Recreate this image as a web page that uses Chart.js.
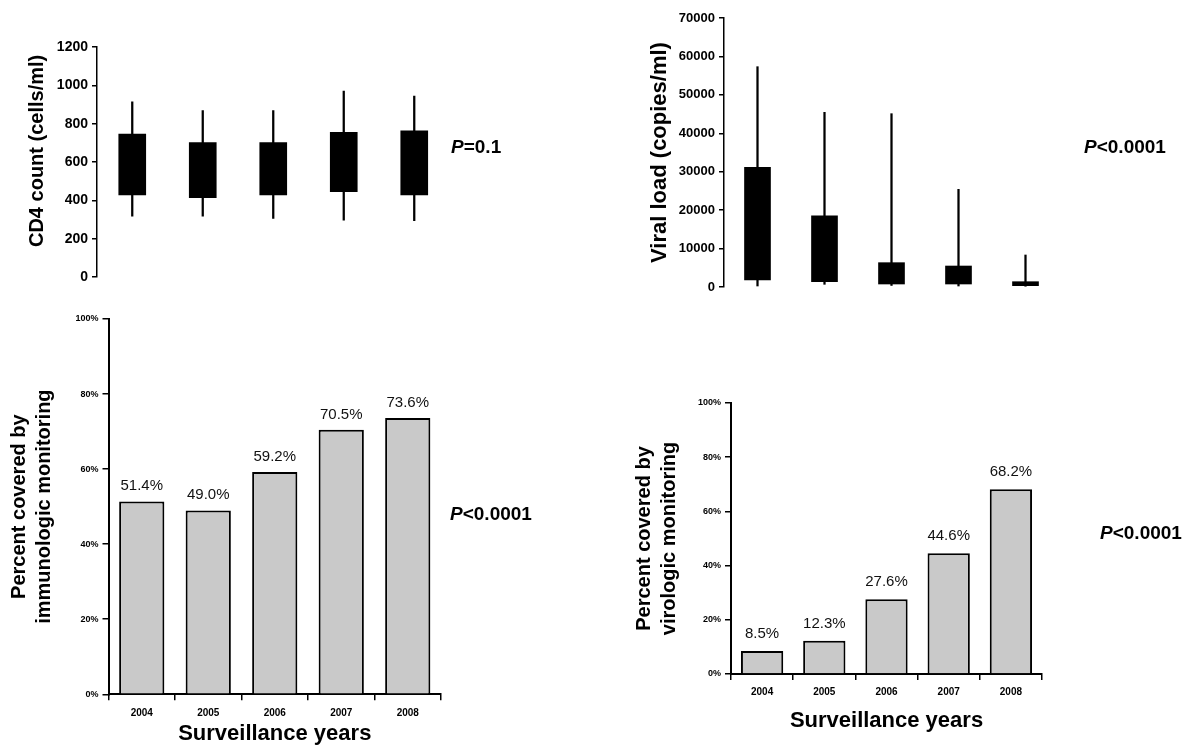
<!DOCTYPE html>
<html lang="en">
<head>
<meta charset="UTF-8">
<title>CD4 / viral load monitoring</title>
<script src="https://cdn.jsdelivr.net/npm/chart.js"></script>
<style>
  body { margin: 0; background: #fff; width: 1200px; height: 756px; position: relative; overflow: hidden;
         font-family: "Liberation Sans", Arial, sans-serif; }
  .panel { position: absolute; }
  .pval { position: absolute; font-weight: bold; color: #000; white-space: nowrap; }
</style>
</head>
<body>
<div class="panel" style="left:0;top:0;width:460px;height:300px"><canvas id="cd4"></canvas></div>
<div class="panel" style="left:600px;top:0;width:600px;height:300px"><canvas id="vl"></canvas></div>
<div class="panel" style="left:0;top:300px;width:600px;height:456px"><canvas id="immuno"></canvas></div>
<div class="panel" style="left:600px;top:380px;width:600px;height:376px"><canvas id="viro"></canvas></div>

<div class="pval" style="left:451px;top:137px;font-size:19px;line-height:20px"><i>P</i>=0.1</div>
<div class="pval" style="left:1084px;top:137px;font-size:19px;line-height:20px"><i>P</i>&lt;0.0001</div>
<div class="pval" style="left:450px;top:504px;font-size:19px;line-height:20px"><i>P</i>&lt;0.0001</div>
<div class="pval" style="left:1100px;top:523px;font-size:19px;line-height:20px"><i>P</i>&lt;0.0001</div>

<script>
    const years = ['2004', '2005', '2006', '2007', '2008'];

    // CD4 count (cells/ml): whisker ends and box edges
    const cd4Min = [318, 318, 306, 297, 294];
    const cd4Q1  = [428, 414, 428, 445, 428];
    const cd4Q3  = [746, 701, 701, 755, 763];
    const cd4Max = [914, 868, 868, 970, 944];

    // viral load (copies/ml)
    const vlMin = [260, 700, 400, 260, 200];
    const vlQ1  = [1820, 1380, 780, 780, 340];
    const vlQ3  = [31150, 18550, 6330, 5460, 1380];
    const vlMax = [57330, 45460, 45100, 25420, 8330];

    // percent covered
    const immunoPct = [51.4, 49.0, 59.2, 70.5, 73.6];
    const viroPct   = [8.5, 12.3, 27.6, 44.6, 68.2];

    const cd4Ticks = [0, 1200, 200];
    const vlTicks = [0, 70000, 10000];
    const pctTicks = [0, 100, 20];

    const FONT = '"Liberation Sans", Arial, sans-serif';
    Chart.defaults.font.family = FONT;
    Chart.defaults.color = '#000';

    function pairs(a, b) {
        return a.map((v, i) => [v, b[i]]);
    }

    // floating bars: box + thin whisker, drawn on the same category slot
    function boxChart(id, lo, q1, q3, hi, ticks, opts) {
        return new Chart(document.getElementById(id), {
            type: 'bar',
            data: {
                labels: years,
                datasets: [
                    { data: pairs(q1, q3), backgroundColor: '#000', barThickness: opts.boxW, grouped: false },
                    { data: pairs(lo, hi), backgroundColor: '#000', barThickness: 1.6, grouped: false }
                ]
            },
            options: {
                animation: false,
                responsive: true,
                maintainAspectRatio: false,
                layout: { padding: opts.pad },
                plugins: { legend: { display: false }, tooltip: { enabled: false } },
                scales: {
                    x: { display: false },
                    y: {
                        min: ticks[0], max: ticks[1],
                        ticks: { stepSize: ticks[2], padding: 4, font: { size: opts.tickSize, weight: 'bold' },
                                 callback: v => String(v) },
                        grid: { drawOnChartArea: false, tickLength: 5, color: '#000', lineWidth: 1.5 },
                        border: { display: true, color: '#000', width: 1.5 },
                        title: {
                            display: true, text: opts.title,
                            font: { size: opts.titleSize, weight: 'bold' },
                            padding: { top: opts.titlePad, bottom: 0 }
                        },
                        afterFit: s => { s.width = opts.yW; }
                    }
                }
            }
        });
    }

    const valueLabels = {
        id: 'valueLabels',
        afterDatasetsDraw(chart, args, o) {
            const ctx = chart.ctx;
            const meta = chart.getDatasetMeta(0);
            ctx.save();
            ctx.font = '15px ' + FONT;
            ctx.fillStyle = '#111';
            ctx.textAlign = 'center';
            ctx.textBaseline = 'alphabetic';
            meta.data.forEach((bar, i) => {
                const v = chart.data.datasets[0].data[i];
                ctx.fillText(v.toFixed(1) + '%', bar.x, bar.y - o.gap);
            });
            ctx.restore();
        }
    };

    function pctChart(id, values, opts) {
        return new Chart(document.getElementById(id), {
            type: 'bar',
            data: {
                labels: years,
                datasets: [{
                    data: values,
                    backgroundColor: '#c9c9c9',
                    borderColor: '#000',
                    borderWidth: 2,
                    borderSkipped: 'start',
                    barPercentage: 0.68,
                    categoryPercentage: 1
                }]
            },
            options: {
                animation: false,
                responsive: true,
                maintainAspectRatio: false,
                layout: { padding: opts.pad },
                plugins: {
                    legend: { display: false }, tooltip: { enabled: false },
                    valueLabels: { gap: opts.gap }
                },
                scales: {
                    x: {
                        ticks: { padding: opts.xTickPad, font: { size: 10, weight: 'bold' } },
                        grid: { offset: true, drawOnChartArea: false, tickLength: 6, color: '#000', lineWidth: 1.5 },
                        border: { display: true, color: '#000', width: 2 },
                        title: {
                            display: true, text: 'Surveillance years',
                            font: { size: 22, weight: 'bold' },
                            padding: { top: 0, bottom: opts.xTitlePad }
                        },
                        afterFit: s => { s.height = opts.xH; }
                    },
                    y: {
                        min: pctTicks[0], max: pctTicks[1],
                        ticks: { stepSize: pctTicks[2], padding: 4, font: { size: 9, weight: 'bold' },
                                 callback: v => v + '%' },
                        grid: { drawOnChartArea: false, tickLength: 6, color: '#000', lineWidth: 1.5 },
                        border: { display: true, color: '#000', width: 2 },
                        title: {
                            display: true, text: opts.title,
                            font: { size: 20, weight: 'bold', lineHeight: 1.25 },
                            padding: { top: opts.titlePad, bottom: 0 }
                        },
                        afterFit: s => { s.width = opts.yW; }
                    }
                }
            },
            plugins: [valueLabels]
        });
    }

    // leading spaces nudge the rotated title up a little, as in the original
    boxChart('cd4', cd4Min, cd4Q1, cd4Q3, cd4Max, cd4Ticks, {
        boxW: 27, pad: { left: 0, top: 47, right: 10.5, bottom: 23 }, yW: 97,
        tickSize: 14, title: '    CD4 count (cells/ml)', titleSize: 20, titlePad: 25.5
    });

    boxChart('vl', vlMin, vlQ1, vlQ3, vlMax, vlTicks, {
        boxW: 26, pad: { left: 0, top: 18, right: 141, bottom: 13 }, yW: 124,
        tickSize: 13, title: 'Viral load (copies/ml)', titleSize: 22, titlePad: 47
    });

    pctChart('immuno', immunoPct, {
        pad: { left: 0, top: 19, right: 159, bottom: 0 }, yW: 108.5, xH: 61.7,
        xTickPad: 7, xTitlePad: 9, gap: 11, titlePad: 6.5,
        title: ['Percent covered by', 'immunologic monitoring']
    });

    pctChart('viro', viroPct, {
        pad: { left: 0, top: 23, right: 158, bottom: 0 }, yW: 131, xH: 82,
        xTickPad: 6, xTitlePad: 22, gap: 13, titlePad: 31.5,
        title: ['Percent covered by', 'virologic monitoring']
    });
</script>
</body>
</html>
